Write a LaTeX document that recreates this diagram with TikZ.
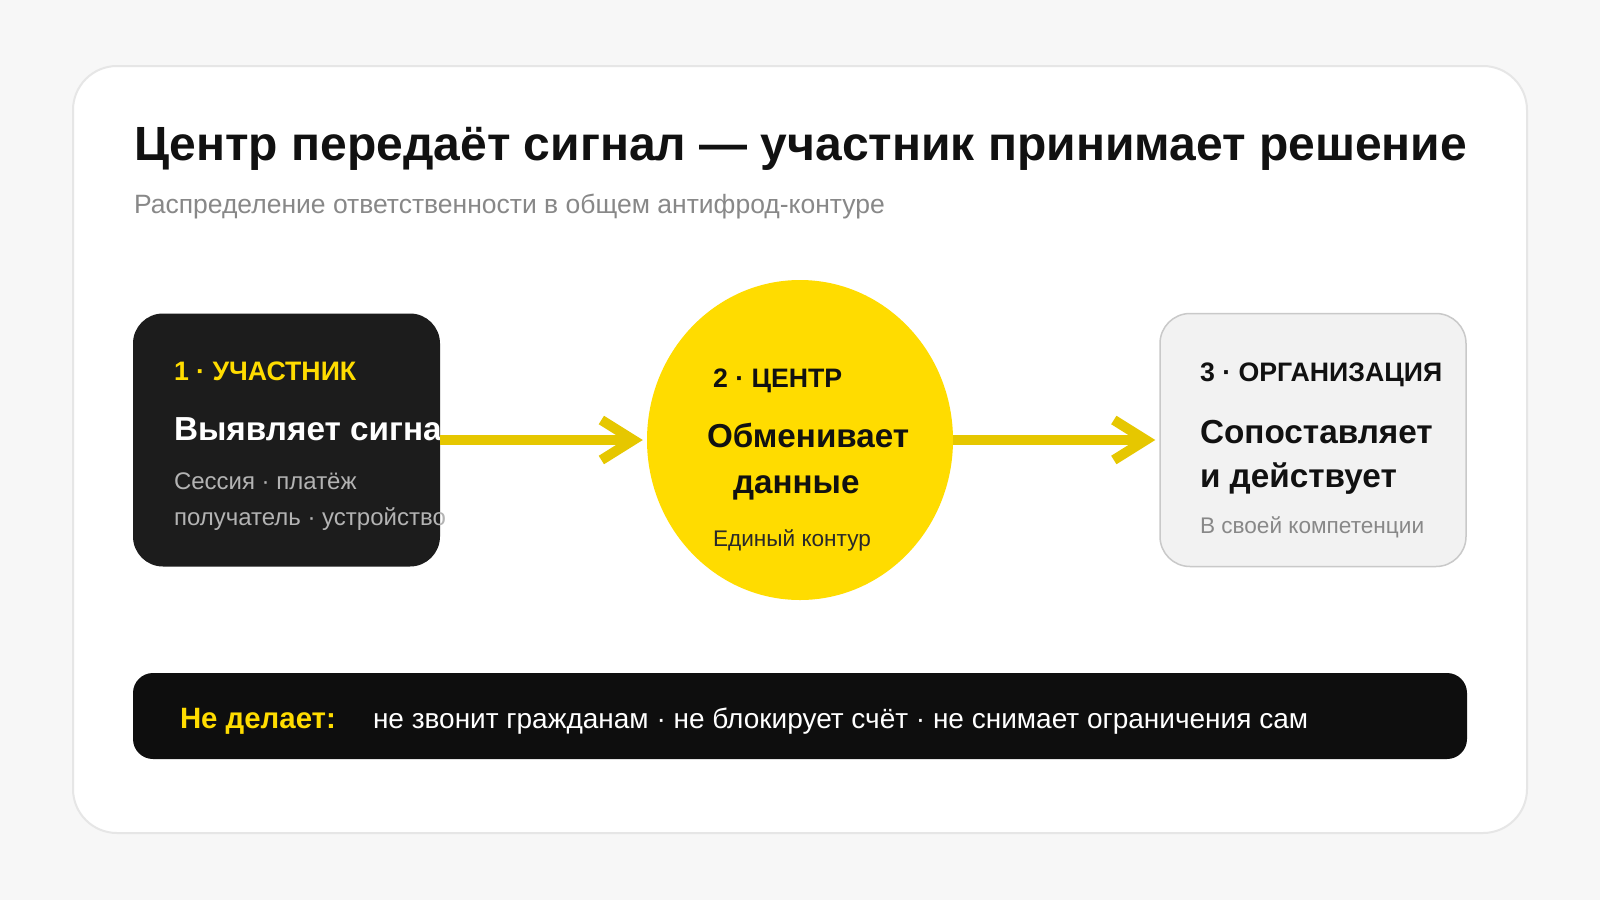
\documentclass[tikz,border=0pt]{standalone}
\usepackage{fontspec}
\setmainfont{Liberation Sans}
\usetikzlibrary{shapes.geometric,arrows.meta}
\definecolor{bgc}{HTML}{F7F7F7}
\definecolor{cardline}{HTML}{E6E6E6}
\definecolor{darkbox}{HTML}{1C1C1C}
\definecolor{yel}{HTML}{FFDC00}
\definecolor{arrowyel}{HTML}{E6C700}
\definecolor{lightbox}{HTML}{F2F2F2}
\definecolor{lightline}{HTML}{C9C9C9}
\definecolor{barc}{HTML}{0E0E0E}
\definecolor{graydark}{HTML}{B3B3B3}
\definecolor{subgray}{HTML}{888888}
\definecolor{inkc}{HTML}{111111}
\tikzset{
  txt/.style={anchor=base west, inner sep=0pt, outer sep=0pt},
  fs/.style={font=\fontsize{#1}{#1}\selectfont},
  fsb/.style={font=\fontsize{#1}{#1}\selectfont\bfseries},
  flow/.style={draw=arrowyel, line width=10pt, -{Straight Barb[length=32pt,width=40pt]}},
}
\begin{document}
\begin{tikzpicture}[x=1pt,y=-1pt]
\useasboundingbox (0,0) rectangle (1600,900);
\fill[bgc] (0,0) rectangle (1600,900);
% card
\node[draw=cardline, line width=2pt, fill=white, rounded corners=44pt,
  minimum width=1454pt, minimum height=767pt, inner sep=0pt] (card) at (800,449.5) {};
% title
\node[txt, fsb=48, text=inkc] (title) at (134,160) {Центр передаёт сигнал — участник принимает решение};
\node[txt, fs=26.5, text=subgray] (subtitle) at (134,213) {Распределение ответственности в общем антифрод-контуре};
% box 1
\node[fill=darkbox, rounded corners=30pt, minimum width=307pt, minimum height=253pt, inner sep=0pt] (b1) at (286.5,440) {};
\node[txt, fsb=26.7, text=yel] (b1a) at (174,380) {1 · УЧАСТНИК};
\node[txt, fsb=33.3, text=white] (b1b) at (174,440) {Выявляет сигнал};
\node[txt, fs=24, text=graydark] (b1c) at (174,489) {Сессия · платёж};
\node[txt, fs=24, text=graydark] (b1d) at (174,525) {получатель · устройство};
% centre
\node[ellipse, fill=yel, minimum width=306pt, minimum height=320pt, inner sep=0pt] (c) at (800,440) {};
\node[txt, fsb=26.7, text=inkc] (ca) at (713,387) {2 · ЦЕНТР};
\node[txt, fsb=33.2, text=inkc] (cb) at (707,447) {Обменивает};
\node[txt, fsb=33.2, text=inkc] (cc) at (733,493) {данные};
\node[txt, fs=22.6, text=inkc!90] (cd) at (713,546) {Единый контур};
% box 3
\node[draw=lightline, line width=1.5pt, fill=lightbox, rounded corners=30pt, minimum width=306pt, minimum height=253pt, inner sep=0pt] (b3) at (1313,440) {};
\node[txt, fsb=26.7, text=inkc] (b3a) at (1200,381) {3 · ОРГАНИЗАЦИЯ};
\node[txt, fsb=33.3, text=inkc] (b3b) at (1200,443) {Сопоставляет};
\node[txt, fsb=33.3, text=inkc] (b3c) at (1200,487) {и действует};
\node[txt, fs=22.6, text=subgray] (b3d) at (1200,533) {В своей компетенции};
% arrows
\draw[flow] (b1.east) -- ([xshift=-4pt]c.west);
\draw[flow] (c.east) -- ([xshift=-4pt]b3.west);
% bottom bar
\node[fill=barc, rounded corners=20pt, minimum width=1334pt, minimum height=86pt, inner sep=0pt] (bar) at (800,716) {};
\node[txt, fsb=29.4, text=yel] (bara) at (180,728) {Не делает:};
\node[txt, fs=28, text=white] (barb) at (373,728) {не звонит гражданам · не блокирует счёт · не снимает ограничения сам};
\end{tikzpicture}
\end{document}
